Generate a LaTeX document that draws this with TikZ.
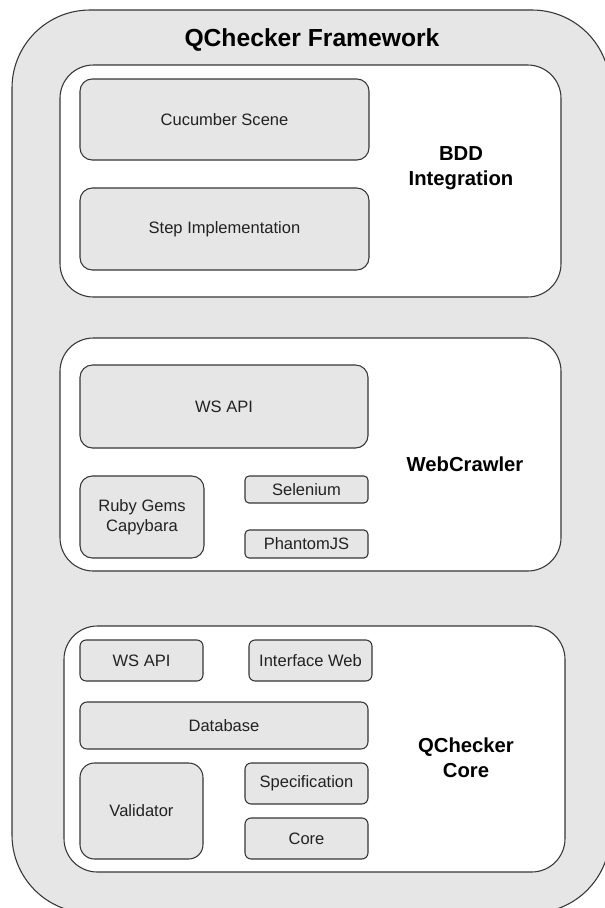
\documentclass[tikz,border=0pt]{standalone}
\usepackage{fontspec}
\setmainfont{Liberation Sans}
\usepackage{xcolor}
\definecolor{PanelGrey}{HTML}{E6E6E6}
\definecolor{EdgeGrey}{HTML}{363636}
\definecolor{InkGrey}{HTML}{222222}
\usetikzlibrary{positioning}

\begin{document}
\begin{tikzpicture}[x=0.75pt,y=-0.75pt,
          box/.style 2 args={rectangle,draw=EdgeGrey,fill=PanelGrey,line width=0.8pt,
                    rounded corners={0.15*min(#1,#2)*0.75pt},
                    minimum width=#1*0.75pt,minimum height=#2*0.75pt,
                    inner sep=0pt,text=InkGrey,align=center,
                    font=\fontsize{12.4}{15}\selectfont},
          layer/.style 2 args={box={#1}{#2},fill=white,rounded corners=25pt},
          lbl/.style={align=center,text=black,
                    font=\fontsize{15.2}{18.8}\selectfont\bfseries}]
        \useasboundingbox (0,0) rectangle (605,908);
        \clip (0,0) rectangle (605,908);

        % framework shell and its title
        \node[box={598}{903},rounded corners=58.5pt] (fw) at (311,461.5) {};
        \node[font=\fontsize{18.5}{22}\selectfont\bfseries] (title) at (312,40)
              {QChecker Framework};

        % BDD layer
        \node[layer={501}{232}] (bdd) at (310.5,181) {};
        \node[box={289}{81}] (cuke)  at (224.5,119.5) {Cucumber Scene};
        \node[box={289}{82}] (steps) at (224.5,229)   {Step Implementation};
        \node[lbl] (bddlbl) at (461,168) {BDD\\Integration};

        % crawler layer
        \node[layer={501}{233}] (crawl) at (310.5,454.5) {};
        \node[box={288}{83}] (wsapi)    at (224,406.5) {WS API};
        \node[box={124}{82}] (ruby)     at (142,517)   {Ruby Gems\\Capybara};
        \node[box={123}{27}] (selenium) at (306.5,489.5) {Selenium};
        \node[box={123}{28}] (phantom)  at (306.5,544)   {PhantomJS};
        \node[lbl] (crawllbl) at (465,464) {WebCrawler};

        % core layer
        \node[layer={501}{246}] (core) at (314.5,749) {};
        \node[box={123}{41}] (cwsapi)  at (141.5,660.5) {WS API};
        \node[box={123}{41}] (iface)   at (310.5,660.5) {Interface Web};
        \node[box={288}{47}] (db)      at (224,725.5)   {Database};
        \node[box={123}{96}] (valid)   at (141.5,811)   {Validator};
        \node[box={123}{41}] (spec)    at (306.5,783.5) {Specification};
        \node[box={123}{41}] (corebox) at (306.5,838.5) {Core};
        \node[lbl] (corelbl) at (466,758) {QChecker\\Core};
      \end{tikzpicture}
\end{document}
